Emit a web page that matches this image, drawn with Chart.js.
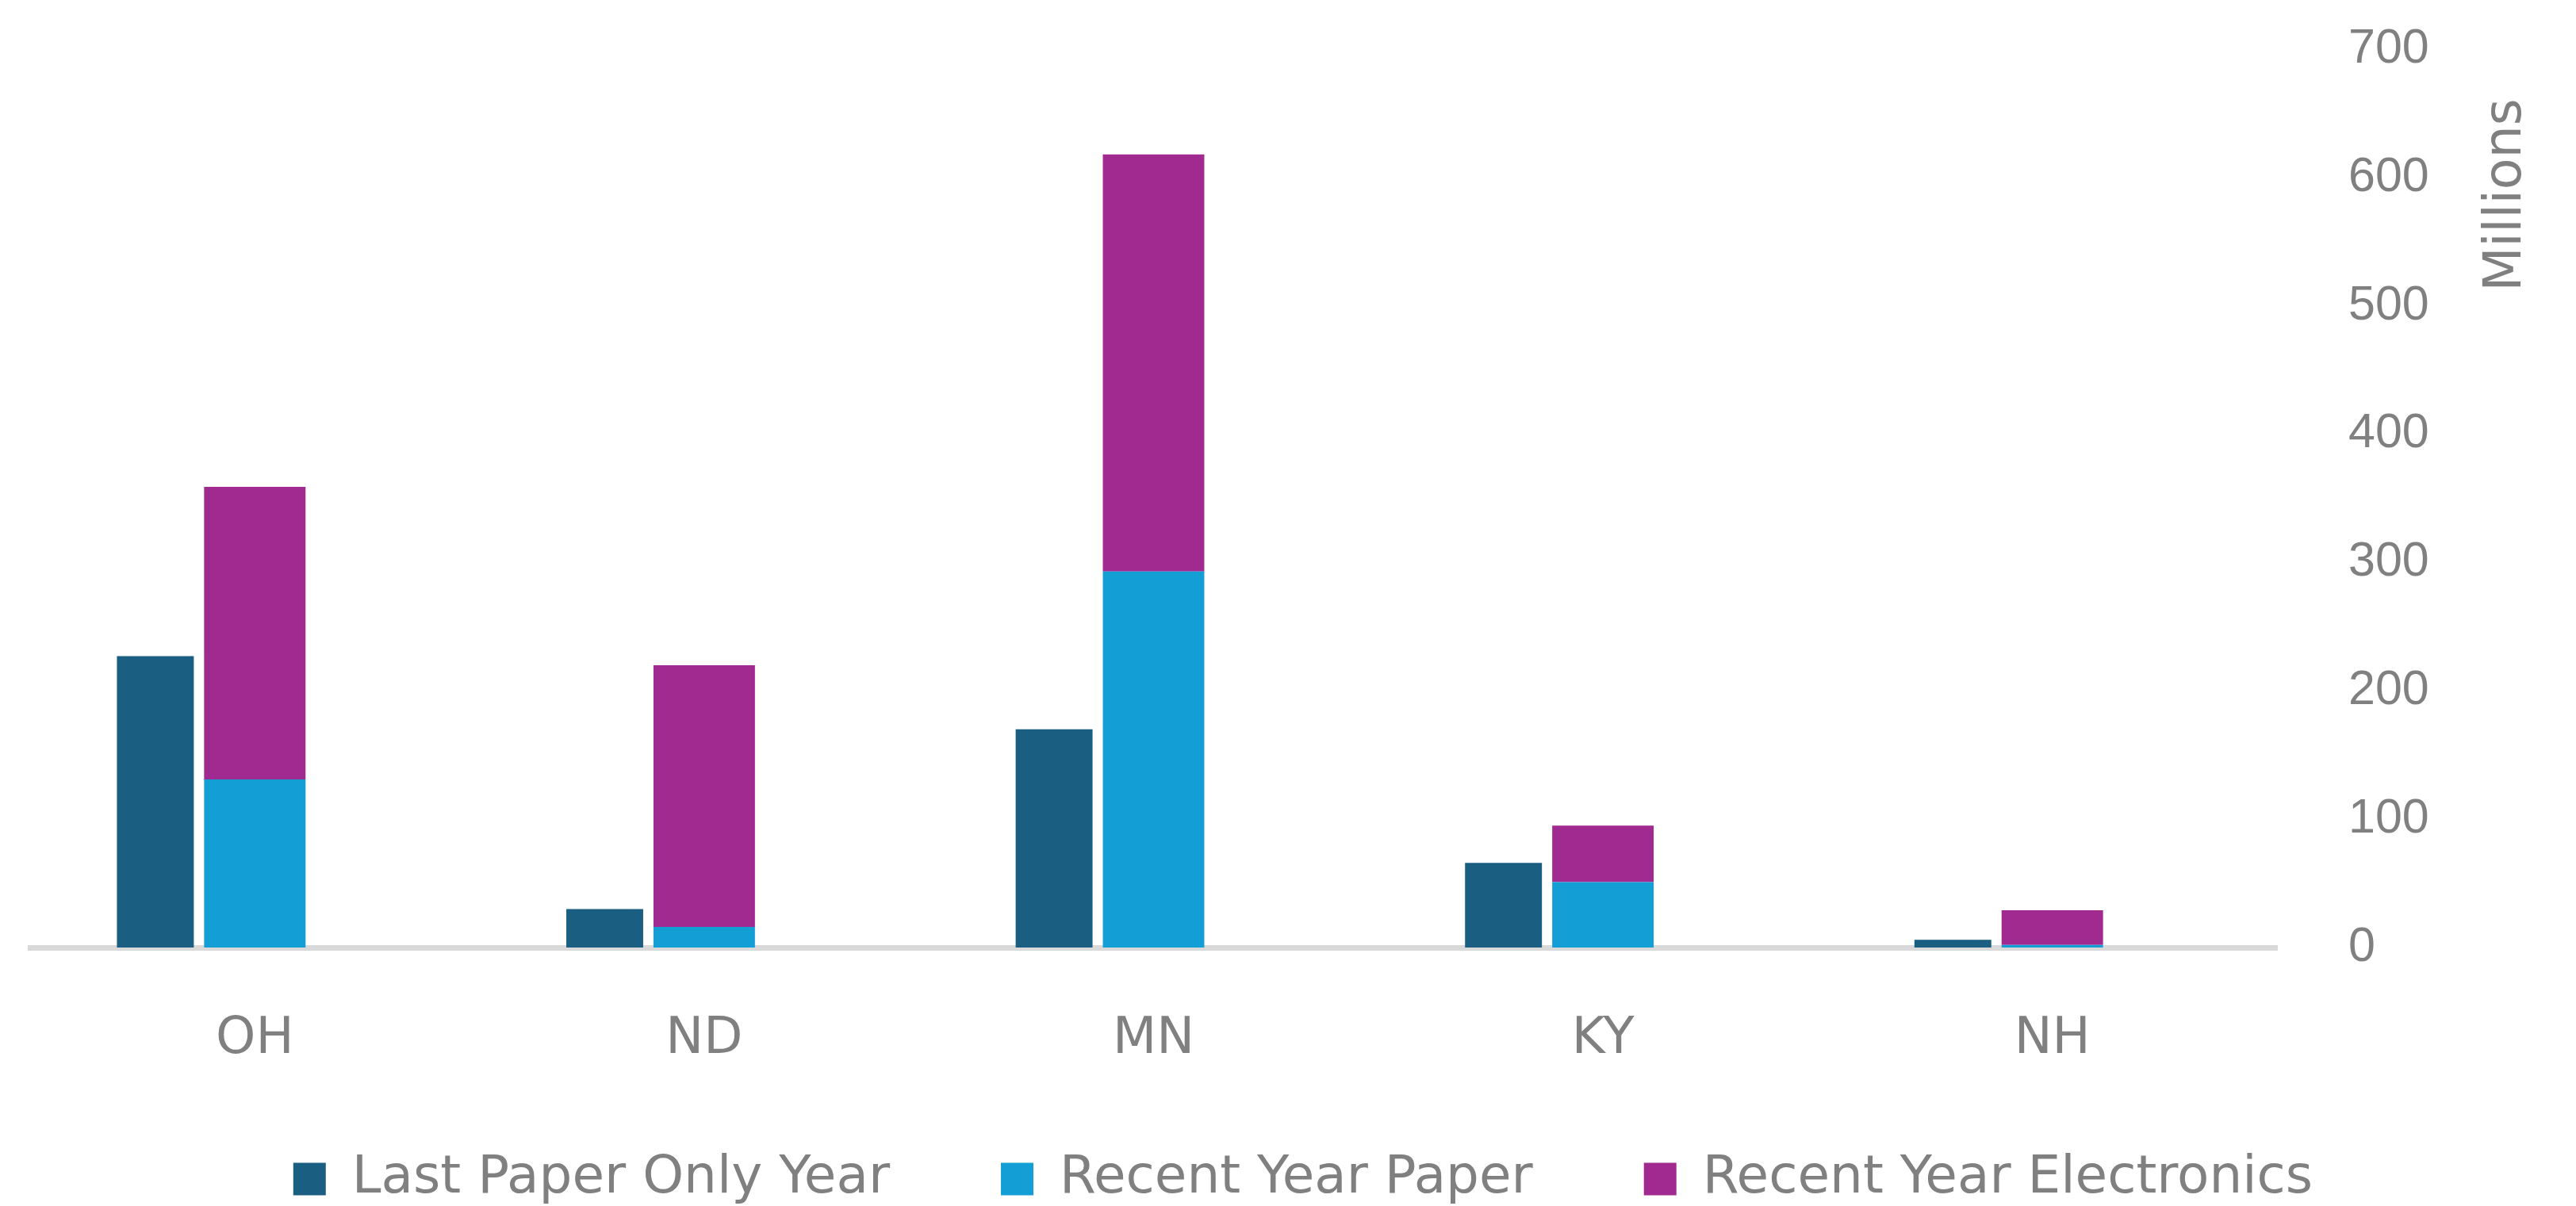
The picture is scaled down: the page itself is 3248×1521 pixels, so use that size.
<!DOCTYPE html>
<html>
<head>
<meta charset="utf-8">
<title>Paper vs Electronics</title>
<script src="https://cdn.jsdelivr.net/npm/chart.js@4.4.1/dist/chart.umd.min.js"></script>
<style>
    html, body { margin: 0; padding: 0; background: #ffffff; }
    canvas { display: block; }
</style>
</head>
<body>
<canvas id="myChart" width="3248" height="1521"></canvas>
<script>
// DATA
const states = ['OH', 'ND', 'MN', 'KY', 'NH'];
const lastPaperOnlyYear = [227, 30, 170, 66, 6];
const recentYearPaper = [131, 16, 293, 51, 2];
const recentYearElectronics = [228, 204, 325, 44, 27];
const spacer = [0, 0, 0, 0, 0];
const yTicks = [0, 100, 200, 300, 400, 500, 600, 700];
const yTitle = 'Millions';

// STYLE
const greyText = '#808080';
const fontName = '"DejaVu Sans", sans-serif';
const numFont = '"Liberation Sans", Arial, sans-serif';

// CATEGORY LABELS + "Millions" (reads bottom to top)
const textPlugin = {
    id: 'extraText',
    afterDraw(chart) {
        const ctx = chart.ctx;
        const x = chart.scales.x;
        const y = chart.scales.y;
        ctx.save();
        ctx.fillStyle = greyText;
        ctx.textAlign = 'center';
        ctx.textBaseline = 'middle';
        ctx.font = '64px ' + fontName;
        states.forEach((s, i) => {
            ctx.fillText(s, x.getPixelForTick(i), x.top + 116);
        });
        ctx.translate(y.right - 87, y.top + 184);
        ctx.rotate(-Math.PI / 2);
        ctx.font = '65px ' + fontName;
        ctx.fillText(yTitle, 0, 0);
        ctx.restore();
    }
};

// DRAWING THE CHART
const ctx = document.getElementById('myChart').getContext('2d');
const myChart = new Chart(ctx, {
    type: 'bar',
    data: {
        labels: states,
        datasets: [{
                label: 'Last Paper Only Year',
                data: lastPaperOnlyYear,
                stack: 'before',
                backgroundColor: '#1a5f82',
                barPercentage: 0.773
            },
            {
                label: 'Recent Year Paper',
                data: recentYearPaper,
                stack: 'recent',
                backgroundColor: '#139fd6',
                barPercentage: 1.02
            },
            {
                label: 'Recent Year Electronics',
                data: recentYearElectronics,
                stack: 'recent',
                backgroundColor: '#a02a90',
                barPercentage: 1.02
            },
            {
                label: '',
                data: spacer,
                stack: 'spacer',
                backgroundColor: 'rgba(0, 0, 0, 0)',
                barPercentage: 1
            }
        ]
    },
    options: {
        responsive: false,
        animation: false,
        devicePixelRatio: 1,
        datasets: {
            bar: { categoryPercentage: 0.664, borderWidth: 0 }
        },
        layout: {
            padding: { left: 38, right: 0, top: 62, bottom: -9 }
        },
        plugins: {
            tooltip: { enabled: false },
            legend: {
                position: 'bottom',
                labels: {
                    filter: item => item.text !== '',
                    boxWidth: 41,
                    boxHeight: 41,
                    padding: 140,
                    color: greyText,
                    font: { family: fontName, size: 66 }
                }
            }
        },
        scales: {
            x: {
                grid: { display: false },
                border: { display: true, color: '#d9d9d9', width: 7 },
                ticks: { display: false },
                afterFit: scale => { scale.height = 119; }
            },
            y: {
                position: 'right',
                stacked: true,
                min: 0,
                max: 700,
                grid: { display: false, drawTicks: false },
                border: { display: false },
                afterBuildTicks: scale => {
                    scale.ticks = yTicks.map(v => ({ value: v }));
                },
                ticks: {
                    color: greyText,
                    padding: 90,
                    font: { family: numFont, size: 61 }
                },
                afterFit: scale => {
                    scale.width = 377;
                    scale.paddingTop = 0;
                    scale.paddingBottom = 0;
                }
            }
        }
    },
    plugins: [textPlugin]
});
</script>
</body>
</html>
